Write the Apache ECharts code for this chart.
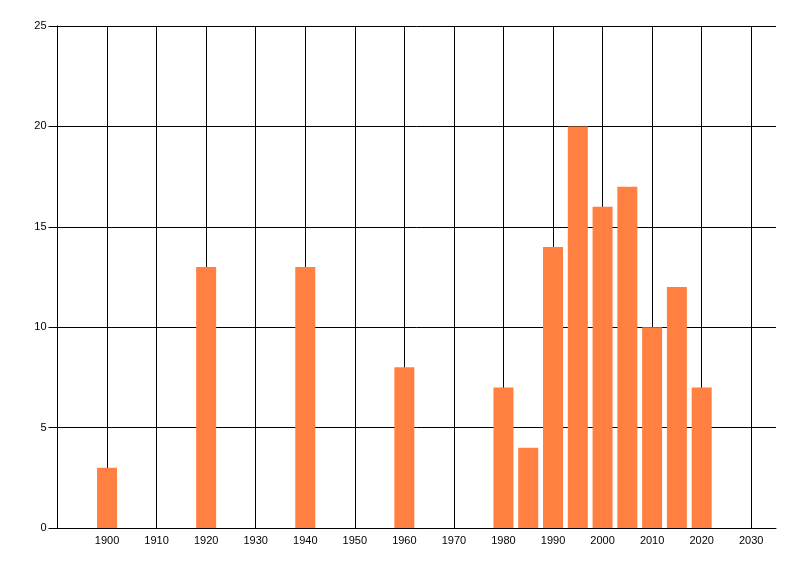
<!DOCTYPE html>
<html>
<head>
<meta charset="utf-8">
<script src="https://cdn.jsdelivr.net/npm/echarts@6/dist/echarts.min.js"></script>
<style>
    html, body { margin: 0; padding: 0; background: #fff; }
    #chart { width: 800px; height: 576px; }
</style>
</head>
<body>
<div id="chart"></div>
<script>
// values
const years = [1900, 1920, 1940, 1960, 1980, 1985, 1990, 1995, 2000, 2005, 2010, 2015, 2020];
const counts = [3, 13, 13, 8, 7, 4, 14, 20, 16, 17, 10, 12, 7];

const xMin = 1890, xMax = 2035, xStep = 10;
const yMin = 0, yMax = 25, yStep = 5;

let chart = echarts.init(document.getElementById('chart'), null, {renderer: 'canvas'});

const barData = years.map((y, i) => [y, counts[i]]);
const labelFont = {
    color: '#000',
    fontFamily: 'Liberation Sans, Arial, sans-serif',
    fontSize: 11
};

chart.setOption({
    animation: false,
    backgroundColor: '#fff',
    grid: {left: 57.5, top: 26, right: 24, bottom: 48, containLabel: false},
    xAxis: {
        type: 'value',
        min: xMin,
        max: xMax,
        interval: xStep,
        axisLine: {show: true, onZero: false, lineStyle: {color: '#000', width: 1}},
        axisTick: {show: false},
        axisLabel: Object.assign({
            margin: 7,
            showMinLabel: false,
            showMaxLabel: false,
            formatter: v => (v % 10 === 0 ? String(v) : '')
        }, labelFont),
        splitLine: {
            show: true,
            showMinLine: false,
            showMaxLine: false,
            lineStyle: {color: '#000', width: 1}
        }
    },
    yAxis: {
        type: 'value',
        min: yMin,
        max: yMax,
        interval: yStep,
        axisLine: {show: true, lineStyle: {color: '#000', width: 1}},
        axisTick: {show: true, length: 9, lineStyle: {color: '#000'}},
        axisLabel: Object.assign({margin: 11}, labelFont),
        splitLine: {show: true, lineStyle: {color: '#000', width: 1}}
    },
    series: [{
        type: 'bar',
        data: barData,
        barWidth: 20,
        itemStyle: {color: '#FF8040'}
    }]
});
</script>
</body>
</html>
